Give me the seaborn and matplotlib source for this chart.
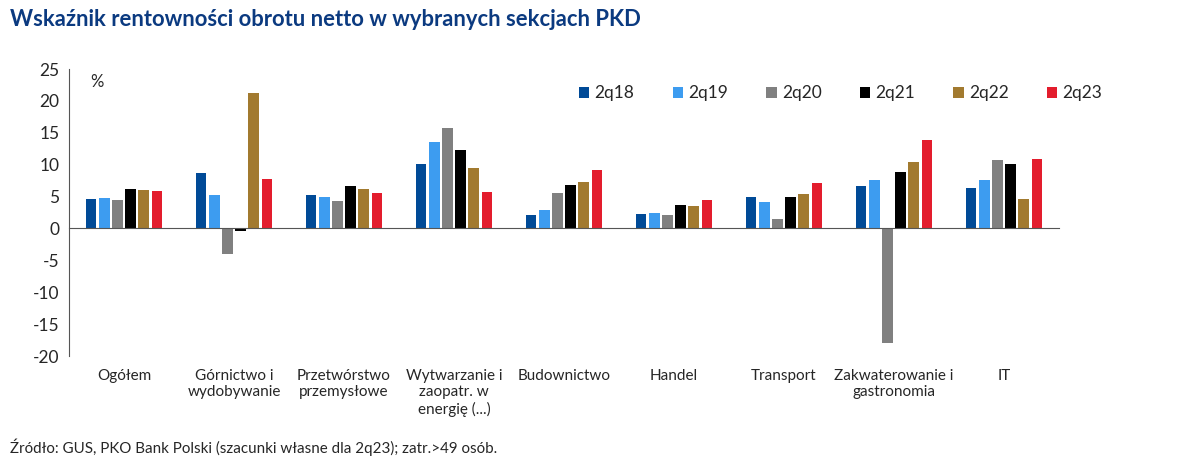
import pandas as pd
import seaborn as sns
import matplotlib.pyplot as plt
import matplotlib.transforms as mtransforms

sections = ['Ogółem', 'Górnictwo i\nwydobywanie', 'Przetwórstwo\nprzemysłowe',
            'Wytwarzanie i\nzaopatr. w\nenergię (...)', 'Budownictwo', 'Handel',
            'Transport', 'Zakwaterowanie i\ngastronomia', 'IT']
periods = ['2q18', '2q19', '2q20', '2q21', '2q22', '2q23']

v_2q18 = [4.6, 8.7, 5.3, 10.1, 2.15, 2.3, 5.0, 6.7, 6.3]
v_2q19 = [4.8, 5.3, 4.9, 13.5, 2.9, 2.5, 4.1, 7.6, 7.6]
v_2q20 = [4.45, -4.0, 4.35, 15.7, 5.6, 2.05, 1.45, -17.9, 10.7]
v_2q21 = [6.2, -0.4, 6.65, 12.25, 6.85, 3.75, 4.9, 8.9, 10.05]
v_2q22 = [6.1, 21.2, 6.2, 9.5, 7.35, 3.55, 5.35, 10.4, 4.7]
v_2q23 = [5.8, 7.8, 5.55, 5.75, 9.1, 4.4, 7.2, 13.8, 10.95]

colors = ['#004a97', '#3d9cf0', '#808080', '#000000', '#a27a2f', '#e31d2d']

df = pd.DataFrame({'sekcja': sections, '2q18': v_2q18, '2q19': v_2q19, '2q20': v_2q20,
                   '2q21': v_2q21, '2q22': v_2q22, '2q23': v_2q23})
df = df.melt(id_vars='sekcja', var_name='okres', value_name='wartosc')

sns.set_style('white')
plt.rcParams['font.family'] = ['Lato', 'DejaVu Sans']
plt.rcParams['axes.unicode_minus'] = False

fig = plt.figure(figsize=(12, 4.71), dpi=100)
ax = fig.add_axes([0.0575, 0.244, 0.825, 0.6095])

sns.barplot(data=df, x='sekcja', y='wartosc', hue='okres', hue_order=periods,
            palette=colors, saturation=1, width=0.72, gap=0.17, linewidth=0, ax=ax)

ax.set_xlim(-0.5, len(sections) - 0.5)
ax.set_ylim(-20, 25)
ax.set_yticks(range(-20, 26, 5))
ax.set_xlabel('')
ax.set_ylabel('')

for s in ['top', 'right']:
    ax.spines[s].set_visible(False)
ax.spines['bottom'].set_position(('data', 0))
ax.spines['bottom'].set_color('#555555')
ax.spines['left'].set_color('#555555')
ax.set_xticks([i + 0.5 for i in range(len(sections))])
ax.set_xticklabels([])
ax.tick_params(axis='x', direction='out', length=4, color='#555555')
ax.tick_params(axis='y', direction='out', length=4, color='#555555', labelsize=12.5, pad=3)

trans = mtransforms.blended_transform_factory(ax.transData, ax.transAxes)
for i, name in enumerate(sections):
    ax.text(i, -0.045, name, transform=trans, ha='center', va='top', fontsize=11,
            linespacing=1.2)

ax.text(0.021, 0.955, '%', transform=ax.transAxes, fontsize=12, ha='left', va='center')

ax.legend(loc='center left', bbox_to_anchor=(0.508, 0.915), ncol=6, frameon=False,
          fontsize=12.5, handlelength=0.6, handleheight=0.6, handletextpad=0.3,
          columnspacing=2.2, borderaxespad=0)

fig.text(0.008, 0.958, 'Wskaźnik rentowności obrotu netto w wybranych sekcjach PKD',
         color='#0b3a80', fontsize=15.8, fontweight='bold', ha='left', va='center')
fig.text(0.008, 0.05, 'Źródło: GUS, PKO Bank Polski (szacunki własne dla 2q23); zatr.>49 osób.',
         fontsize=10.9, ha='left', va='center')

fig.savefig('out.png', dpi=100)
